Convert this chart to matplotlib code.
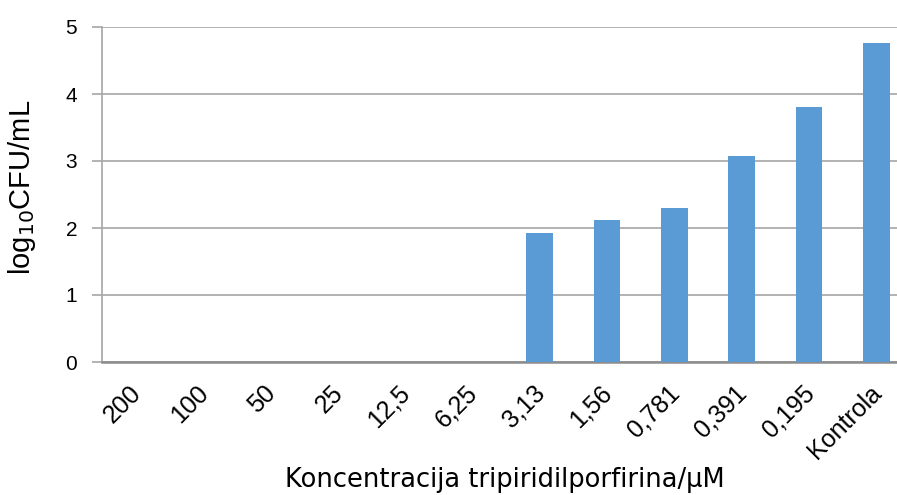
import numpy as np
import matplotlib.pyplot as plt
from matplotlib.transforms import ScaledTranslation

categories = ['200', '100', '50', '25', '12,5', '6,25', '3,13', '1,56',
              '0,781', '0,391', '0,195', 'Kontrola']
log_cfu = [0, 0, 0, 0, 0, 0, 1.93, 2.12, 2.30, 3.07, 3.81, 4.76]

plt.rcParams['font.family'] = ['Liberation Sans', 'DejaVu Sans']

fig = plt.figure(figsize=(8.97, 4.95), dpi=100)
ax = fig.add_axes([102 / 897, 1 - 362 / 495, 808 / 897, 335 / 495])

x = np.arange(len(categories))
ax.bar(x, log_cfu, width=0.4, color='#5B9BD5', zorder=3)

ax.set_xlim(-0.5, len(categories) - 0.5)
ax.set_ylim(0, 5)
ax.set_yticks(range(6))
ax.yaxis.grid(True, color='#A6A6A6', linewidth=1.2, zorder=0)
ax.set_xticks(x)
ax.set_xticklabels(categories, rotation=45, ha='right', rotation_mode='anchor',
                   fontsize=18)
ax.tick_params(axis='x', length=0, pad=13)
ax.tick_params(axis='y', labelsize=15, color='#A6A6A6', length=7, width=1.2, pad=11)

# nudge rotated labels a bit left, like the original
shift = ScaledTranslation(-0.07, -0.01, fig.dpi_scale_trans)
for lbl in ax.get_xticklabels():
    lbl.set_transform(lbl.get_transform() + shift)

for s in ['top', 'right']:
    ax.spines[s].set_visible(False)
ax.spines['left'].set_color('#A6A6A6')
ax.spines['left'].set_linewidth(1.2)
ax.spines['bottom'].set_color('#8C8C8C')
ax.spines['bottom'].set_linewidth(1.8)

fig.text(22 / 897, 1 - 187 / 495, 'log$_{10}$CFU/mL', fontsize=21,
         rotation=90, ha='center', va='center')
fig.text(505 / 897, 1 - 487 / 495, 'Koncentracija tripiridilporfirina/µM',
         fontsize=18.5, family='DejaVu Sans', ha='center', va='baseline')

fig.savefig('out.png', dpi=100)
